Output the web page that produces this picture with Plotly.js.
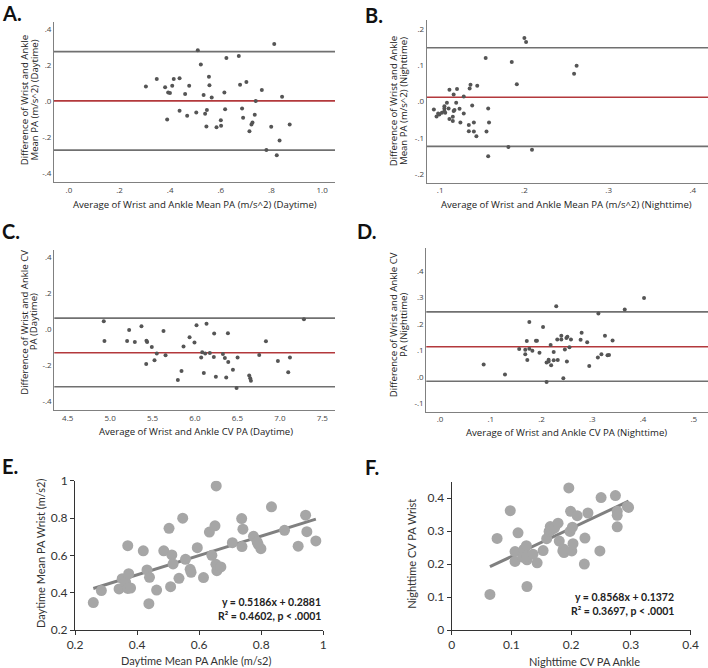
<!DOCTYPE html>
<html><head><meta charset="utf-8">
<script src="https://cdn.plot.ly/plotly-3.0.1.min.js"></script>
<style>html,body{margin:0;padding:0;background:#fff}#chart{width:708px;height:668px}</style>
</head><body><div id="chart"></div>
<script>
// Panel A: Bland-Altman, mean PA daytime
const A_avg = [0.304,0.347,0.380,0.392,0.399,0.408,0.414,0.437,0.388,0.437,0.459,0.475,0.467,0.503,0.509,0.521,0.532,0.538,0.545,0.543,0.553,0.555,0.564,0.583,0.600,0.601,0.614,0.617,0.622,0.671,0.676,0.684,0.688,0.701,0.713,0.721,0.725,0.734,0.738,0.762,0.780,0.799,0.811,0.821,0.832,0.842,0.872];
const A_diff = [0.083,0.124,0.078,0.050,0.046,0.087,0.124,0.128,-0.100,-0.052,0.041,0.087,-0.080,-0.061,0.283,0.204,0.035,-0.069,-0.048,-0.139,0.137,0.089,0.022,-0.143,-0.104,-0.135,0.050,-0.044,0.241,0.252,0.093,-0.039,-0.091,0.107,-0.165,-0.128,-0.117,-0.074,0.002,0.063,-0.270,-0.141,0.319,-0.298,-0.217,0.026,-0.128];
const A_limits = [0.276, 0.003, -0.270]; // upper LoA, mean bias, lower LoA
const A_xticks = [0, 0.2, 0.4, 0.6, 0.8, 1.0];
const A_xlabels = [".0", ".2", ".4", ".6", ".8", "1.0"];
const A_yticks = [0.4, 0.2, 0, -0.2, -0.4];
const A_ylabels = [".4", ".2", ".0", "-.2", "-.4"];

// Panel B: Bland-Altman, mean PA nighttime
const B_avg = [0.0925,0.0957,0.0976,0.099,0.102,0.105,0.105,0.105,0.106,0.108,0.110,0.111,0.111,0.115,0.115,0.116,0.116,0.117,0.119,0.120,0.123,0.124,0.128,0.128,0.134,0.135,0.134,0.136,0.138,0.140,0.140,0.143,0.144,0.154,0.155,0.157,0.157,0.158,0.181,0.185,0.191,0.200,0.202,0.209,0.259,0.262];
const B_diff = [-0.022,-0.041,-0.033,-0.036,-0.031,-0.013,-0.019,-0.026,-0.031,-0.003,-0.019,0.033,-0.048,-0.042,-0.054,-0.026,0.020,-0.023,-0.003,0.035,-0.020,-0.058,0.014,-0.033,-0.065,0.036,-0.082,0.047,-0.011,-0.058,-0.083,-0.096,0.044,0.121,-0.083,-0.151,-0.019,-0.058,-0.126,0.110,0.048,0.176,0.165,-0.133,0.077,0.099];
const B_limits = [0.149, 0.012, -0.124];
const B_xticks = [0.1, 0.2, 0.3, 0.4];
const B_xlabels = [".1", ".2", ".3", ".4"];
const B_yticks = [0.2, 0.1, 0, -0.1, -0.2];
const B_ylabels = [".2", ".1", ".0", "-.1", "-.2"];

// Panel C: Bland-Altman, CV PA daytime
const C_avg = [4.925,4.933,5.200,5.224,5.291,5.369,5.428,5.436,5.425,5.491,5.523,5.550,5.629,5.653,5.798,5.841,5.865,5.936,5.994,6.018,6.073,6.085,6.104,6.120,6.136,6.175,6.222,6.226,6.246,6.329,6.352,6.368,6.388,6.392,6.447,6.490,6.502,6.639,6.651,6.659,6.757,6.836,6.977,7.099,7.119,7.284];
const C_diff = [0.044,-0.065,-0.065,-0.004,-0.070,0.017,-0.063,-0.070,-0.193,-0.098,-0.172,-0.135,-0.009,-0.144,-0.281,-0.231,-0.096,-0.044,-0.074,0.022,-0.157,-0.128,-0.243,-0.135,0.030,-0.131,-0.154,-0.024,-0.263,-0.137,-0.159,-0.267,-0.022,-0.181,-0.224,-0.326,-0.156,-0.257,-0.272,-0.285,-0.143,-0.067,-0.176,-0.239,-0.156,0.056];
const C_limits = [0.062, -0.130, -0.319];
const C_xticks = [4.5, 5.0, 5.5, 6.0, 6.5, 7.0, 7.5];
const C_xlabels = ["4.5", "5.0", "5.5", "6.0", "6.5", "7.0", "7.5"];
const C_yticks = [0.4, 0.2, 0, -0.2, -0.4];
const C_ylabels = [".4", ".2", ".0", "-.2", "-.4"];

// Panel D: Bland-Altman, CV PA nighttime
const D_avg = [0.086,0.128,0.156,0.168,0.168,0.171,0.172,0.176,0.176,0.182,0.189,0.191,0.196,0.203,0.210,0.210,0.214,0.214,0.218,0.219,0.224,0.224,0.229,0.231,0.232,0.239,0.239,0.243,0.246,0.249,0.250,0.251,0.255,0.258,0.279,0.277,0.290,0.294,0.311,0.312,0.318,0.325,0.330,0.333,0.340,0.364,0.402];
const D_diff = [0.047,0.009,0.106,0.103,0.086,0.136,0.064,0.208,0.107,0.099,0.137,0.137,0.092,0.189,-0.019,0.055,0.065,0.059,0.121,0.044,0.094,0.063,0.267,0.142,0.064,0.156,0.142,-0.005,0.104,0.147,0.059,0.152,0.112,0.142,0.167,0.141,0.131,0.042,0.074,0.240,0.086,0.156,0.082,0.083,0.138,0.255,0.298];
const D_limits = [0.246, 0.114, -0.016];
const D_xticks = [0, 0.1, 0.2, 0.3, 0.4, 0.5];
const D_xlabels = [".0", ".1", ".2", ".3", ".4", ".5"];
const D_yticks = [0.4, 0.3, 0.2, 0.1, 0, -0.1];
const D_ylabels = [".4", ".3", ".2", ".1", ".0", "-.1"];

// Panel E: daytime mean PA, ankle vs wrist
const E_ankle = [0.259,0.285,0.342,0.352,0.363,0.373,0.370,0.370,0.379,0.420,0.432,0.440,0.438,0.463,0.486,0.503,0.508,0.512,0.516,0.535,0.547,0.556,0.571,0.574,0.594,0.614,0.633,0.641,0.651,0.655,0.654,0.657,0.670,0.707,0.737,0.738,0.741,0.775,0.787,0.790,0.799,0.833,0.875,0.919,0.943,0.947,0.976];
const E_wrist = [0.347,0.411,0.420,0.475,0.457,0.502,0.652,0.423,0.425,0.624,0.522,0.482,0.341,0.414,0.624,0.745,0.432,0.602,0.554,0.477,0.799,0.579,0.525,0.509,0.641,0.481,0.725,0.600,0.758,0.972,0.552,0.518,0.538,0.668,0.797,0.647,0.740,0.702,0.672,0.659,0.636,0.860,0.734,0.649,0.815,0.727,0.677];
const E_fit = {slope: 0.5186, intercept: 0.2881};
const E_ticks = [0.2, 0.4, 0.6, 0.8, 1];
const E_labels = ["0.2", "0.4", "0.6", "0.8", "1"];

// Panel F: nighttime CV PA, ankle vs wrist
const F_ankle = [0.064,0.076,0.098,0.106,0.106,0.111,0.119,0.121,0.125,0.126,0.126,0.126,0.136,0.143,0.153,0.159,0.163,0.165,0.167,0.172,0.178,0.180,0.186,0.187,0.188,0.196,0.198,0.199,0.201,0.202,0.203,0.210,0.223,0.222,0.228,0.248,0.250,0.274,0.277,0.277,0.277,0.294,0.296];
const F_wrist = [0.108,0.278,0.362,0.238,0.208,0.295,0.221,0.245,0.256,0.132,0.213,0.223,0.230,0.204,0.241,0.277,0.299,0.314,0.304,0.309,0.324,0.270,0.240,0.246,0.235,0.431,0.299,0.360,0.240,0.312,0.262,0.347,0.279,0.200,0.355,0.240,0.402,0.408,0.360,0.348,0.313,0.375,0.372];
const F_fit = {slope: 0.8568, intercept: 0.1372};
const F_xticks = [0, 0.1, 0.2, 0.3, 0.4];
const F_xlabels = ["0", "0.1", "0.2", "0.3", "0.4"];
const F_yticks = [0, 0.1, 0.2, 0.3, 0.4];
const F_ylabels = ["0", "0.1", "0.2", "0.3", "0.4"];

const W = 708, H = 668;
const px = X => X / W;
const py = Y => 1 - Y / H;

const SPSS_FONT = '"Open Sans", "DejaVu Sans", sans-serif';
const XL_FONT = 'Lato, "Open Sans", sans-serif';

const dotStyle = {size: 4, color: '#555555'};
const bigDot = {size: 11, color: '#a6a6a6'};

function baTrace(x, y, n) {
  return {type: 'scatter', mode: 'markers', x: x, y: y, xaxis: 'x' + n, yaxis: 'y' + n,
          marker: dotStyle, hoverinfo: 'skip', showlegend: false};
}
function fitTrace(xs, fit, n) {
  const lo = Math.min.apply(null, xs), hi = Math.max.apply(null, xs);
  return {type: 'scatter', mode: 'lines', x: [lo, hi],
          y: [fit.slope * lo + fit.intercept, fit.slope * hi + fit.intercept],
          xaxis: 'x' + n, yaxis: 'y' + n, line: {color: '#808080', width: 3},
          hoverinfo: 'skip', showlegend: false};
}

const traces = [
  baTrace(A_avg, A_diff, ''),
  baTrace(B_avg, B_diff, '2'),
  baTrace(C_avg, C_diff, '3'),
  baTrace(D_avg, D_diff, '4'),
  fitTrace(E_ankle, E_fit, '5'),
  {type: 'scatter', mode: 'markers', x: E_ankle, y: E_wrist, xaxis: 'x5', yaxis: 'y5', marker: bigDot, hoverinfo: 'skip', showlegend: false},
  fitTrace(F_ankle, F_fit, '6'),
  {type: 'scatter', mode: 'markers', x: F_ankle, y: F_wrist, xaxis: 'x6', yaxis: 'y6', marker: bigDot, hoverinfo: 'skip', showlegend: false}
];
traces.sort((a, b) => (a.mode === 'lines' ? -1 : 0) - (b.mode === 'lines' ? -1 : 0));

function baAxis(domain, range, tv, tt) {
  return {domain: domain, range: range, tickvals: tv, ticktext: tt, showgrid: false, zeroline: false,
          showline: true, linecolor: '#808080', linewidth: 1, ticks: '',
          tickfont: {family: SPSS_FONT, size: 8, color: '#444'}, fixedrange: true};
}
function xlAxis(domain, range, tv, tt) {
  return {domain: domain, range: range, tickvals: tv, ticktext: tt, showgrid: false, zeroline: false,
          showline: true, linecolor: '#333', linewidth: 1, ticks: 'outside', ticklen: 4, tickcolor: '#333',
          tickfont: {family: XL_FONT, size: 12, color: '#333'}, fixedrange: true};
}

const shapes = [];
function refLines(limits, n) {
  const colors = ['#707070', '#b3393c', '#707070'];
  limits.forEach((v, i) => {
    shapes.push({type: 'line', xref: 'x' + n + ' domain', x0: 0, x1: 1, yref: 'y' + n, y0: v, y1: v,
                 line: {color: colors[i], width: 1.6}, layer: 'below'});
  });
}
refLines(A_limits, '');
refLines(B_limits, '2');
refLines(C_limits, '3');
refLines(D_limits, '4');

const annotations = [];
function txt(text, X, Y, opts) {
  annotations.push(Object.assign({text: text, xref: 'paper', yref: 'paper', x: px(X), y: py(Y),
    xanchor: 'center', yanchor: 'middle', showarrow: false,
    font: {family: SPSS_FONT, size: 9.6, color: '#222'}}, opts || {}));
}
const letterFont = {family: XL_FONT, size: 20, color: '#111', weight: 700};
const letterOpts = {xanchor: 'left', yanchor: 'top', borderpad: 0, font: letterFont};
txt('<b>A.</b>', 1, 0.5, letterOpts);
txt('<b>B.</b>', 364, 2.5, letterOpts);
txt('<b>C.</b>', 1, 218, letterOpts);
txt('<b>D.</b>', 356, 218, letterOpts);
txt('<b>E.</b>', 1, 453, letterOpts);
txt('<b>F.</b>', 364, 454, letterOpts);

// SPSS axis titles
txt('Average of Wrist and Ankle Mean PA (m/s^2) (Daytime)', 195, 204);
txt('Difference of Wrist and Ankle', 25.3, 100, {textangle: -90});
txt('Mean PA (m/s^2) (Daytime)', 34.5, 100, {textangle: -90});
txt('Average of Wrist and Ankle Mean PA (m/s^2) (Nighttime)', 566, 204);
txt('Difference of Wrist and Ankle', 394.3, 101, {textangle: -90});
txt('Mean PA (m/s^2) (Nighttime)', 404, 101, {textangle: -90});
txt('Average of Wrist and Ankle CV PA (Daytime)', 196, 431.5);
txt('Difference of Wrist and Ankle CV', 23.8, 322, {textangle: -90});
txt('PA (Daytime)', 33.3, 322, {textangle: -90});
txt('Average of Wrist and Ankle CV PA (Nighttime)', 566.5, 432.3);
txt('Difference of Wrist and Ankle CV', 394.3, 325, {textangle: -90});
txt('PA (Nighttime)', 404, 325, {textangle: -90});

// Excel axis titles
const xlTitle = {family: XL_FONT, size: 11, color: '#333'};
txt('Daytime Mean PA Ankle (m/s2)', 196, 660.5, {font: xlTitle});
txt('Daytime Mean PA Wrist (m/s2)', 40, 554, {textangle: -90, font: xlTitle});
txt('Nighttime CV PA Ankle', 584, 661, {font: xlTitle});
txt('Nighttime CV PA Wrist', 410.7, 554, {textangle: -90, font: xlTitle});

const eqFont = {family: XL_FONT, size: 10.5, color: '#222', weight: 700};
txt('<b>y = ' + E_fit.slope.toFixed(4) + 'x + ' + E_fit.intercept.toFixed(4) + '</b>', 323, 601.7, {xanchor: 'right', font: eqFont});
txt('<b>R² = 0.4602, p < .0001</b>', 323, 615.5, {xanchor: 'right', font: eqFont});
txt('<b>y = ' + F_fit.slope.toFixed(4) + 'x + ' + F_fit.intercept.toFixed(4) + '</b>', 675.7, 596.7, {xanchor: 'right', font: eqFont});
txt('<b>R² = 0.3697, p < .0001</b>', 675.7, 611, {xanchor: 'right', font: eqFont});

const layout = {
  width: W, height: H, margin: {l: 0, r: 0, t: 0, b: 0}, paper_bgcolor: '#fff', plot_bgcolor: 'rgba(0,0,0,0)',
  showlegend: false, hovermode: false,
  xaxis:  Object.assign(baAxis([px(54), px(335)], [-0.059, 1.051], A_xticks, A_xlabels), {anchor: 'y'}),
  yaxis:  Object.assign(baAxis([py(182), py(21.7)], [-0.447, 0.442], A_yticks, A_ylabels), {anchor: 'x'}),
  xaxis2: Object.assign(baAxis([px(426.7), 1], [0.084, 0.418], B_xticks, B_xlabels), {anchor: 'y2'}),
  yaxis2: Object.assign(baAxis([py(182.5), py(20)], [-0.224, 0.226], B_yticks, B_ylabels), {anchor: 'x2'}),
  xaxis3: Object.assign(baAxis([px(54.3), px(335)], [4.342, 7.65], C_xticks, C_xlabels), {anchor: 'y3'}),
  yaxis3: Object.assign(baAxis([py(410), py(250)], [-0.448, 0.44], C_yticks, C_ylabels), {anchor: 'x3'}),
  xaxis4: Object.assign(baAxis([px(426.3), 1], [-0.027, 0.528], D_xticks, D_xlabels), {anchor: 'y4'}),
  yaxis4: Object.assign(baAxis([py(411.7), py(248.3)], [-0.131, 0.486], D_yticks, D_ylabels), {anchor: 'x4'}),
  xaxis5: Object.assign(xlAxis([px(75), px(323.3)], [0.2, 1], E_ticks, E_labels), {anchor: 'y5'}),
  yaxis5: Object.assign(xlAxis([py(630), py(480.7)], [0.2, 1], E_ticks, E_labels), {anchor: 'x5'}),
  xaxis6: Object.assign(xlAxis([px(451.7), px(690.7)], [0, 0.4], F_xticks, F_xlabels), {anchor: 'y6'}),
  yaxis6: Object.assign(xlAxis([py(630), py(481.7)], [0, 0.45], F_yticks, F_ylabels), {anchor: 'x6'}),
  shapes: shapes,
  annotations: annotations
};

Plotly.newPlot('chart', traces, layout, {displayModeBar: false, staticPlot: true});
</script>
</body></html>
